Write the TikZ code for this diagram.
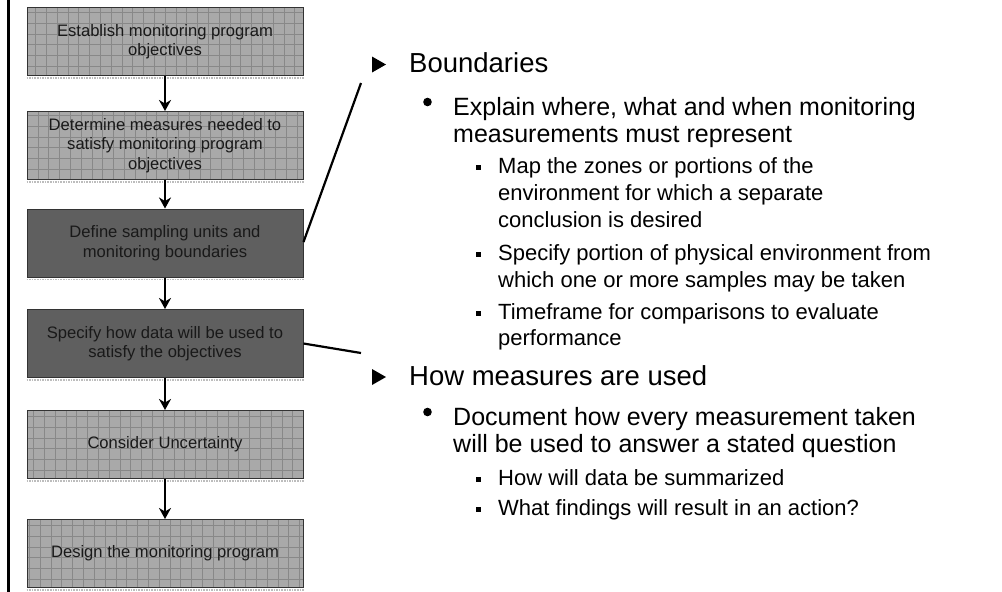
\documentclass[tikz,border=0pt]{standalone}
\usepackage{fontspec}
\setmainfont{Liberation Sans}
\usetikzlibrary{arrows.meta}
\definecolor{lightfill}{HTML}{A9A9A9}
\definecolor{gridcol}{HTML}{888888}
\definecolor{darkfill}{HTML}{5F5F5F}
\definecolor{boxborder}{HTML}{333333}
\definecolor{shadowcol}{HTML}{BDBDBD}
\begin{document}
\begin{tikzpicture}[x=1pt,y=-1pt,
  box/.style={draw=boxborder, line width=1pt, minimum width=276pt, minimum height=68pt,
    inner sep=0pt, align=center, font=\fontsize{16.6}{19.5}\selectfont, text=black!90},
  lightbox/.style={box, fill=lightfill, path picture={\draw[gridcol, line width=0.7pt]
    (path picture bounding box.south west) grid[step=10.8pt] (path picture bounding box.north east);}},
  darkbox/.style={box, fill=darkfill},
  arr/.style={line width=2.4pt, -{Stealth[length=11pt,width=12pt,inset=3.5pt]}},
  conn/.style={line width=2.2pt},
  lvla/.style={anchor=base west, inner sep=0pt, font=\fontsize{27.5}{33}\selectfont},
  lvlb/.style={anchor=base west, inner sep=0pt, font=\fontsize{25}{30}\selectfont},
  lvlc/.style={anchor=base west, inner sep=0pt, font=\fontsize{22}{26}\selectfont}
]
\useasboundingbox (0,0) rectangle (1002,592);
\fill[white] (0,0) rectangle (1002,592);
% left rule
\draw[line width=2.8pt] (8.7,0) -- (8.7,592);

% flow boxes
\node[lightbox] (b1) at (165,41.5) {Establish monitoring program\\objectives};
\node[lightbox] (b2) at (165,145.5) {Determine measures needed to\\satisfy monitoring program\\objectives};
\node[darkbox] (b3) at (165,243) {Define sampling units and\\monitoring boundaries};
\node[darkbox] (b4) at (165,343.5) {Specify how data will be used to\\satisfy the objectives};
\node[lightbox] (b5) at (165,444.5) {Consider Uncertainty};
\node[lightbox] (b6) at (165,553.5) {Design the monitoring program};

\foreach \n in {b1,b2,b3,b4,b5,b6}
  \draw[shadowcol, line width=1.6pt, densely dotted] ([yshift=-1.8pt]\n.south west) -- ([yshift=-1.8pt]\n.south east);

\draw[arr] (b1) -- (b2);
\draw[arr] (b2) -- (b3);
\draw[arr] (b3) -- (b4);
\draw[arr] (b4) -- (b5);
\draw[arr] (b5) -- (b6);

% callout lines
\coordinate (c1) at (361,83);
\coordinate (c2) at (361,353);
\coordinate (s1) at ([yshift=1pt]b3.east);
\draw[conn] (s1) -- (c1);
\draw[conn] (b4.east) -- (c2);

% bullets
\foreach \b in {72.5,385}
  \fill (372,\b) -- (372,\b-16) -- (386,\b-8) -- cycle;
\foreach \b in {115,425}
  \fill (427.5,\b-13) circle[radius=4.3pt];
\foreach \b in {173,260,319,485,515}
  \fill (475.5,\b-8.5) rectangle (480.5,\b-3.5);

% text
\node[lvla] (t1) at (409,72.5) {Boundaries};
\node[lvlb] (t2) at (453,115) {Explain where, what and when monitoring};
\node[lvlb] (t3) at (453,142) {measurements must represent};
\node[lvlc] (t4) at (498,173) {Map the zones or portions of the};
\node[lvlc] (t5) at (498,200) {environment for which a separate};
\node[lvlc] (t6) at (498,227) {conclusion is desired};
\node[lvlc] (t7) at (498,260) {Specify portion of physical environment from};
\node[lvlc] (t8) at (498,287) {which one or more samples may be taken};
\node[lvlc] (t9) at (498,319) {Timeframe for comparisons to evaluate};
\node[lvlc] (t10) at (498,345) {performance};
\node[lvla] (t11) at (409,385) {How measures are used};
\node[lvlb] (t12) at (453,425) {Document how every measurement taken};
\node[lvlb] (t13) at (453,452) {will be used to answer a stated question};
\node[lvlc] (t14) at (498,485) {How will data be summarized};
\node[lvlc] (t15) at (498,515) {What findings will result in an action?};
\end{tikzpicture}
\end{document}
